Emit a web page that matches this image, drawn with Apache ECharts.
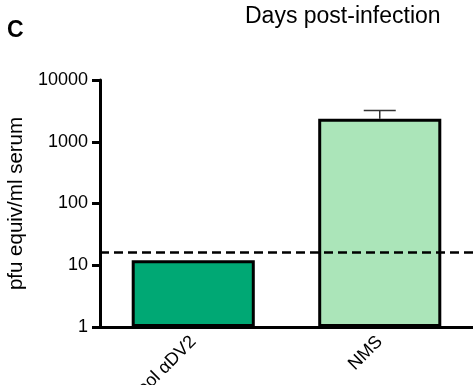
<!DOCTYPE html>
<html><head><meta charset="utf-8">
<script src="https://cdn.jsdelivr.net/npm/echarts@6/dist/echarts.min.js"></script>
<style>html,body{margin:0;padding:0;background:#fff}#c{width:473px;height:385px}</style>
</head><body><div id="c"></div>
<script>
const categories = ['Pool \u03B1DV2', 'NMS'];
const values = [12, 2350];
const errUpper = [null, 3200];
const threshold = 16;
const yTicks = [1, 10, 100, 1000, 10000];
const barColors = ['#00a874', '#abe5b9'];

const chart = echarts.init(document.getElementById('c'));
const F = 'Liberation Sans, Arial, sans-serif';
chart.setOption({
  animation: false,
  graphic: [
    {type: 'text', left: 7, top: 19, style: {text: 'C', font: 'bold 23px ' + F, fill: '#000'}},
    {type: 'text', left: 245, top: 5, style: {text: 'Days post-infection', font: '23px ' + F, fill: '#000'}}
  ],
  grid: {left: 100, right: 0, top: 80, bottom: 58, outerBoundsMode: 'none', containLabel: false},
  xAxis: {
    type: 'category', data: categories,
    axisLine: {lineStyle: {color: '#000', width: 3}},
    axisTick: {alignWithLabel: true, length: 8, lineStyle: {color: '#000', width: 3}},
    axisLabel: {rotate: 45, fontSize: 18, fontFamily: F, color: '#000', margin: 12}
  },
  yAxis: {
    type: 'log', min: 1, max: 10000, logBase: 10,
    name: 'pfu equiv/ml serum', nameLocation: 'middle', nameGap: 73,
    nameTextStyle: {fontSize: 20.5, fontFamily: F, color: '#000'},
    axisLine: {show: true, lineStyle: {color: '#000', width: 3}},
    axisTick: {show: true, length: 8, lineStyle: {color: '#000', width: 3}},
    axisLabel: {fontSize: 18, fontFamily: F, color: '#000', margin: 12,
      formatter: v => String(Math.round(v))},
    splitLine: {show: false}
  },
  series: [
    {
      type: 'bar', barWidth: '66%',
      data: values.map((v, i) => ({value: v, itemStyle: {color: barColors[i]}})),
      itemStyle: {borderColor: '#000', borderWidth: 3},
      markLine: {
        symbol: 'none', silent: true, label: {show: false},
        lineStyle: {color: '#000', type: [9, 5], width: 2.5},
        data: [{yAxis: threshold}]
      },
      z: 2
    },
    {
      type: 'custom', z: 1,
      data: errUpper.map((e, i) => [i, values[i], e]),
      renderItem: function (params, api) {
        const e = api.value(2);
        if (e == null || isNaN(e)) return null;
        const top = api.coord([api.value(0), e]);
        const base = api.coord([api.value(0), api.value(1)]);
        return {
          type: 'group', children: [
            {type: 'line', shape: {x1: top[0], y1: top[1], x2: base[0], y2: base[1]}, style: {stroke: '#333', lineWidth: 1.5}},
            {type: 'line', shape: {x1: top[0] - 16, y1: top[1], x2: top[0] + 16, y2: top[1]}, style: {stroke: '#333', lineWidth: 1.5}}
          ]
        };
      }
    }
  ]
});
</script></body></html>
